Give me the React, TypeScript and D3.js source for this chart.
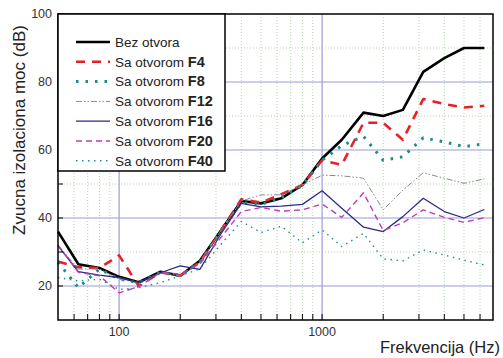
import React, { useEffect, useRef } from 'react';
import * as d3 from 'd3';

// 1/3 octave bands (Hz)
const freqs = [50, 63, 80, 100, 125, 160, 200, 250, 315, 400, 500, 630, 800, 1000, 1250, 1600, 2000, 2500, 3150, 4000, 5000, 6300];

const bezOtvora = [36, 26.4, 25.3, 22.7, 21.1, 24.2, 23, 27.4, 36, 45, 44.3, 45.8, 49.7, 57.5, 63, 71, 70, 71.8, 83, 87, 90, 90];
const f4 = [27.2, 25.5, 25.3, 29, 20, 24, 23, 27, 36, 45.5, 44.5, 47, 49.7, 57, 55.6, 68, 68, 63, 75, 73.5, 72.5, 73];
const f8 = [27, 19.5, 25, 22, 21, 24, 23, 27, 36, 44.5, 44, 46, 49.5, 57, 61.3, 64, 57, 58, 63.6, 62.4, 61, 61.8];
const f12 = [32, 25, 25, 22, 21, 24, 23, 27, 36, 45, 46.8, 46.8, 49.7, 52.6, 52.4, 51.7, 42.4, 48.2, 53.3, 51.7, 50.2, 51.5];
const f16 = [31.8, 24.2, 23.2, 22.5, 21.1, 23.9, 25.9, 24.9, 35, 44.3, 43.3, 43.5, 44, 48, 42.9, 37.3, 36, 40.4, 45.8, 41.9, 40, 42.5];
const f20 = [32, 24, 23, 18, 19.8, 24, 23.5, 26.5, 34, 41.9, 43.1, 42, 42.4, 44.1, 40.2, 47.4, 36.3, 38.6, 42.4, 40.2, 38.7, 40.1];
const f40 = [22.5, 21.5, 22, 19, 19.5, 21, 23, 25, 32, 39, 35.7, 37.6, 32.7, 36.5, 31.6, 35.5, 28, 27.4, 30.6, 29.1, 27.6, 26.2];

const seriesNames = ['Bez otvora', 'F4', 'F8', 'F12', 'F16', 'F20', 'F40'];
const seriesValues = [bezOtvora, f4, f8, f12, f16, f20, f40];

const yTicks = [20, 40, 60, 80, 100];
const yMinor = [30, 50, 70, 90];
const xTicks = [100, 1000];
const xMinor = [60, 70, 80, 90, 200, 300, 400, 500, 600, 700, 800, 900, 2000, 3000, 4000, 5000, 6000];

const styles = [
  { color: '#000000', width: 2.6, dash: null },
  { color: '#e8202a', width: 2.6, dash: '9,7' },
  { color: '#1a8a8a', width: 3, dash: '2.5,7' },
  { color: '#8a8a8a', width: 1, dash: '6,2,1.5,2,1.5,2' },
  { color: '#2b2b84', width: 1.3, dash: null },
  { color: '#c03cb4', width: 1.4, dash: '6,4' },
  { color: '#1f8f8f', width: 1.4, dash: '1.5,4.5' },
];

export default function App() {
  const svgRef = useRef<SVGSVGElement>(null);
  const width = 503;
  const height = 358;
  const margin = { top: 14, right: 10, bottom: 38, left: 58 };

  useEffect(() => {
    if (!svgRef.current) return;
    const svg = d3.select(svgRef.current);
    svg.selectAll('*').remove();

    const innerWidth = width - margin.left - margin.right;
    const innerHeight = height - margin.top - margin.bottom;
    const font = 'Liberation Sans, Arial, sans-serif';

    const x = d3.scaleLog().domain([50, 6950]).range([0, innerWidth]);
    const y = d3.scaleLinear().domain([10, 100]).range([innerHeight, 0]);

    const g = svg.append('g').attr('transform', `translate(${margin.left}, ${margin.top})`);

    // grid
    g.selectAll('.vminor').data(xMinor).enter().append('line')
      .attr('x1', d => x(d)).attr('x2', d => x(d))
      .attr('y1', 0).attr('y2', innerHeight)
      .attr('stroke', '#b5d6ae').attr('stroke-width', 1).attr('stroke-dasharray', '1,2');
    g.selectAll('.hminor').data(yMinor).enter().append('line')
      .attr('x1', 0).attr('x2', innerWidth)
      .attr('y1', d => y(d)).attr('y2', d => y(d))
      .attr('stroke', '#b5d6ae').attr('stroke-width', 1).attr('stroke-dasharray', '1,2');
    g.selectAll('.vmajor').data(xTicks).enter().append('line')
      .attr('x1', d => x(d)).attr('x2', d => x(d))
      .attr('y1', 0).attr('y2', innerHeight)
      .attr('stroke', '#9b9bd8').attr('stroke-width', 1.2);
    g.selectAll('.hmajor').data(yTicks.filter(d => d < 100)).enter().append('line')
      .attr('x1', 0).attr('x2', innerWidth)
      .attr('y1', d => y(d)).attr('y2', d => y(d))
      .attr('stroke', '#9b9bd8').attr('stroke-width', 1.2);

    // series
    const line = d3.line<number>()
      .x((d, i) => x(freqs[i]))
      .y(d => y(d));

    seriesValues.forEach((vals, i) => {
      const s = styles[i];
      g.append('path')
        .datum(vals)
        .attr('fill', 'none')
        .attr('stroke', s.color)
        .attr('stroke-width', s.width)
        .attr('stroke-linejoin', 'round')
        .attr('stroke-dasharray', s.dash)
        .attr('d', line);
    });

    // ticks (inward)
    const tickG = g.append('g');
    tickG.selectAll('.xt').data([...xTicks, ...xMinor]).enter().append('line')
      .attr('x1', d => x(d)).attr('x2', d => x(d))
      .attr('y1', innerHeight).attr('y2', innerHeight - 6)
      .attr('stroke', '#000').attr('stroke-width', 1);
    tickG.selectAll('.yt').data([...yTicks, ...yMinor]).enter().append('line')
      .attr('x1', 0).attr('x2', 5)
      .attr('y1', d => y(d)).attr('y2', d => y(d))
      .attr('stroke', '#000').attr('stroke-width', 1);

    // frame
    g.append('rect')
      .attr('width', innerWidth).attr('height', innerHeight)
      .attr('fill', 'none').attr('stroke', '#000').attr('stroke-width', 1.5);

    // tick labels
    g.selectAll('.yl').data(yTicks).enter().append('text')
      .attr('x', -6).attr('y', d => y(d)).attr('dy', '0.35em')
      .attr('text-anchor', 'end')
      .style('font-family', font).style('font-size', '12.5px').style('fill', '#333')
      .text(d => d);
    g.selectAll('.xl').data(xTicks).enter().append('text')
      .attr('x', d => x(d)).attr('y', innerHeight + 16)
      .attr('text-anchor', 'middle')
      .style('font-family', font).style('font-size', '12.5px').style('fill', '#333')
      .text(d => d);

    // axis titles
    svg.append('text')
      .attr('transform', 'translate(25, 130) rotate(-90)')
      .attr('text-anchor', 'middle')
      .style('font-family', font).style('font-size', '17px').style('fill', '#222')
      .text('Zvucna izolaciona moc (dB)');
    svg.append('text')
      .attr('x', 500).attr('y', 353)
      .attr('text-anchor', 'end')
      .style('font-family', font).style('font-size', '16.5px').style('fill', '#222')
      .text('Frekvencija (Hz)');

    // legend
    const legend = g.append('g');
    legend.append('rect')
      .attr('x', 0).attr('y', 0).attr('width', 167).attr('height', 157)
      .attr('fill', '#fff').attr('stroke', '#000').attr('stroke-width', 1.5);
    const items = legend.selectAll('.li').data(seriesNames).enter().append('g')
      .attr('transform', (d, i) => `translate(0, ${28 + i * 19.8})`);
    items.append('line')
      .attr('x1', 18).attr('x2', 52).attr('y1', 0).attr('y2', 0)
      .attr('stroke', (d, i) => styles[i].color)
      .attr('stroke-width', (d, i) => styles[i].width)
      .attr('stroke-dasharray', (d, i) => styles[i].dash);
    const txt = items.append('text')
      .attr('x', 57).attr('y', 0).attr('dy', '0.35em')
      .style('font-family', font).style('font-size', '13.5px').style('fill', '#222');
    txt.each(function (d, i) {
      const t = d3.select(this);
      if (i === 0) {
        t.text(d);
      } else {
        t.append('tspan').text('Sa otvorom ');
        t.append('tspan').style('font-weight', 'bold').style('font-size', '14.5px').text(d);
      }
    });
  }, []);

  return (
    <svg
      ref={svgRef}
      width={width}
      height={height}
      viewBox={`0 0 ${width} ${height}`}
      style={{ position: 'absolute', left: 0, top: 0, display: 'block', background: '#fff' }}
    />
  );
}
